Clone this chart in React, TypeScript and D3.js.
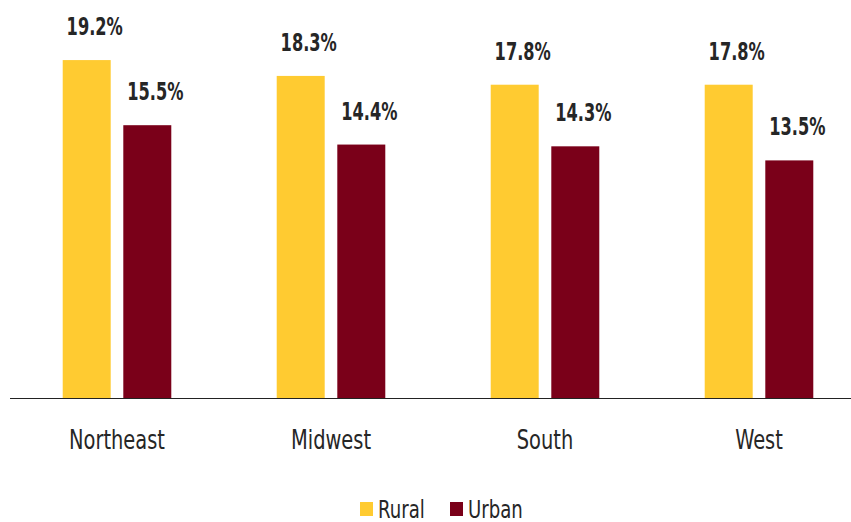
import * as d3 from "d3";

const regions = ["Northeast", "Midwest", "South", "West"];
const seriesNames = ["Rural", "Urban"];
const rural = [19.2, 18.3, 17.8, 17.8];
const urban = [15.5, 14.4, 14.3, 13.5];
const colors = ["#FFCB31", "#7A0019"];

const width = 851;
const height = 522;
const baseline = 398;
const font = "'Liberation Sans Narrow', 'DejaVu Sans Condensed', 'Liberation Sans', sans-serif";

// the original font is a narrow one, so squeeze the condensed fallback a bit
const Label = ({ x, y, sx, size, bold, anchor, children }) => (
	<text
		transform={`translate(${x},${y}) scale(${sx},1)`}
		textAnchor={anchor}
		fontFamily={font}
		fontWeight={bold ? "bold" : "normal"}
		fontSize={size}
		fill="#262626"
	>
		{children}
	</text>
);

const App = () => {
	const values = [rural, urban];

	const scaleX = d3.scaleBand().domain(regions).range([10, 866]);
	const scaleInner = d3
		.scaleBand()
		.domain(seriesNames)
		.range([0, scaleX.bandwidth()])
		.paddingInner(0.208)
		.paddingOuter(0.87);
	const scaleY = d3.scaleLinear().domain([0, 20]).range([baseline, 46]);

	const barWidth = scaleInner.bandwidth();

	return (
		<svg
			width={width}
			height={height}
			style={{ position: "absolute", left: 0, top: 0, background: "#fff" }}
		>
			{regions.map((region, i) => (
				<g key={region} transform={`translate(${scaleX(region)},0)`}>
					{seriesNames.map((name, s) => {
						const v = values[s][i];
						const x = scaleInner(name) as number;
						return (
							<g key={name}>
								<rect
									x={x}
									y={scaleY(v)}
									width={barWidth}
									height={baseline - scaleY(v)}
									fill={colors[s]}
								/>
								<Label x={x + barWidth / 2 + 8} y={scaleY(v) - 25} sx={0.75} size={24} bold anchor="middle">
									{v.toFixed(1)}%
								</Label>
							</g>
						);
					})}
					<Label x={scaleX.bandwidth() / 2} y={449} sx={0.8} size={27} anchor="middle">
						{region}
					</Label>
				</g>
			))}
			<line x1={10} x2={width} y1={baseline + 0.5} y2={baseline + 0.5} stroke="#222" strokeWidth={1.2} />
			<g transform="translate(360,0)">
				{seriesNames.map((name, s) => (
					<g key={name} transform={`translate(${s * 90},0)`}>
						<rect x={0} y={502} width={13} height={14} fill={colors[s]} />
						<Label x={18} y={518} sx={0.84} size={24} anchor="start">
							{name}
						</Label>
					</g>
				))}
			</g>
		</svg>
	);
};

export default App;
